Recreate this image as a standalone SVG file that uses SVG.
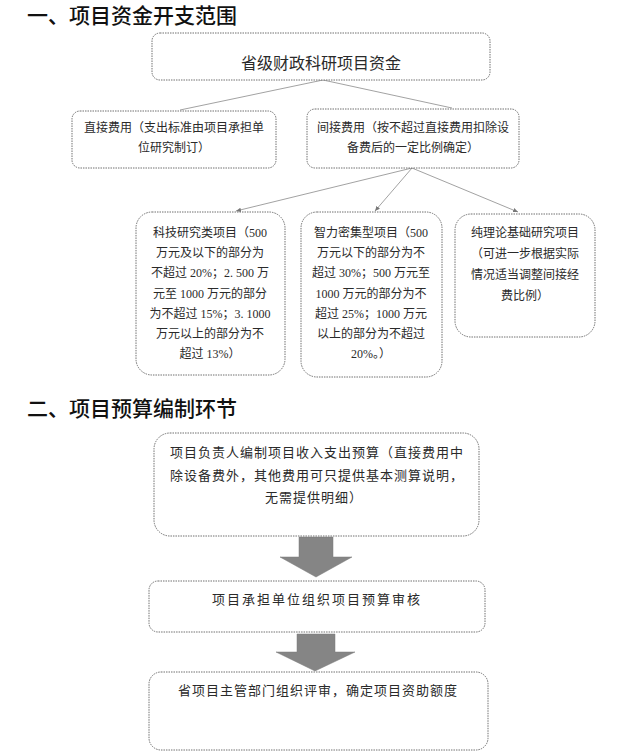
<svg xmlns="http://www.w3.org/2000/svg" width="632" height="753" viewBox="0 0 632 753">
<style>
.box{fill:#fff;stroke:#707070;stroke-width:1;stroke-dasharray:1.5 1}
.title{font-family:"Noto Sans CJK SC","Liberation Sans",sans-serif;font-size:21px;font-weight:500;fill:#111}
.t{font-family:"Liberation Serif","Noto Sans CJK SC",serif;fill:#2a2a2a;text-anchor:middle}
.s12{font-size:12px}
.s13{font-size:13px;letter-spacing:1px}
.s16{font-size:16px}
.conn{stroke:#8a8a8a;stroke-width:0.8;fill:none}
.arrow{fill:#858585;stroke:#7a7a7a;stroke-width:0.5}
</style>
<defs>
<marker id="ah" markerWidth="6" markerHeight="6" refX="5" refY="3" orient="auto" markerUnits="userSpaceOnUse">
<path d="M0,0.8 L5,3 L0,5.2 Z" fill="#777"/>
</marker>
</defs>
<rect width="632" height="753" fill="#fff"/>

<text class="title" x="27" y="23">一、项目资金开支范围</text>
<text class="title" x="27" y="416">二、项目预算编制环节</text>

<g id="connectors">
<line class="conn" x1="323" y1="80" x2="180" y2="110"/>
<line class="conn" x1="323" y1="80" x2="452" y2="108"/>
<line class="conn" x1="412" y1="168" x2="236" y2="211" marker-end="url(#ah)"/>
<line class="conn" x1="412" y1="168" x2="375" y2="211" marker-end="url(#ah)"/>
<line class="conn" x1="412" y1="168" x2="518" y2="212" marker-end="url(#ah)"/>
<g id="arrow1"><path class="arrow" d="M299,537 H333 V557 H352 L316,577 L280,557 H299 Z"/></g>
<g id="arrow2"><path class="arrow" d="M297,634 H335 V652 H355 L315,671 L276,652 H297 Z"/></g>
</g>

<g id="node-top">
<rect class="box" x="152" y="33" width="338" height="47" rx="8"/>
<text class="t s16" x="321" y="69">省级财政科研项目资金</text>
</g>

<g id="node-direct">
<rect class="box" x="72" y="111" width="204" height="57" rx="8"/>
<text class="t s12" x="174" y="132">直接费用（支出标准由项目承担单</text>
<text class="t s12" x="174" y="152">位研究制订）</text>
</g>

<g id="node-indirect">
<rect class="box" x="307" y="109" width="212" height="59" rx="8"/>
<text class="t s12" x="413" y="132">间接费用（按不超过直接费用扣除设</text>
<text class="t s12" x="413" y="152">备费后的一定比例确定）</text>
</g>

<g id="node-tech">
<rect class="box" x="136" y="212" width="149" height="163" rx="16"/>
<text class="t s12" x="210" y="237">科技研究类项目（500</text>
<text class="t s12" x="210" y="257">万元及以下的部分为</text>
<text class="t s12" x="210" y="277">不超过 20%；2. 500 万</text>
<text class="t s12" x="210" y="298">元至 1000 万元的部分</text>
<text class="t s12" x="210" y="318">为不超过 15%；3. 1000</text>
<text class="t s12" x="210" y="338">万元以上的部分为不</text>
<text class="t s12" x="210" y="358">超过 13%）</text>
</g>

<g id="node-intellect">
<rect class="box" x="301" y="212" width="141" height="165" rx="16"/>
<text class="t s12" x="371" y="237">智力密集型项目（500</text>
<text class="t s12" x="371" y="257">万元以下的部分为不</text>
<text class="t s12" x="371" y="277">超过 30%；500 万元至</text>
<text class="t s12" x="371" y="298">1000 万元的部分为不</text>
<text class="t s12" x="371" y="318">超过 25%；1000 万元</text>
<text class="t s12" x="371" y="338">以上的部分为不超过</text>
<text class="t s12" x="371" y="358">20%。）</text>
</g>

<g id="node-theory">
<rect class="box" x="455" y="214" width="140" height="123" rx="16"/>
<text class="t s12" x="525" y="237">纯理论基础研究项目</text>
<text class="t s12" x="525" y="258">（可进一步根据实际</text>
<text class="t s12" x="525" y="279">情况适当调整间接经</text>
<text class="t s12" x="525" y="300">费比例）</text>
</g>

<g id="node-prepare">
<rect class="box" x="154" y="433" width="325" height="103" rx="16"/>
<text class="t s13" x="317" y="457">项目负责人编制项目收入支出预算（直接费用中</text>
<text class="t s13" x="317" y="480">除设备费外，其他费用可只提供基本测算说明，</text>
<text class="t s13" x="314" y="502">无需提供明细）</text>
</g>

<g id="node-review">
<rect class="box" x="149" y="581" width="336" height="51" rx="9"/>
<text class="t" style="font-size:13px;letter-spacing:2px" x="317" y="604">项目承担单位组织项目预算审核</text>
</g>

<g id="node-approve">
<rect class="box" x="149" y="672" width="339" height="78" rx="12"/>
<text class="t s13" x="318" y="695">省项目主管部门组织评审，确定项目资助额度</text>
</g>
</svg>
